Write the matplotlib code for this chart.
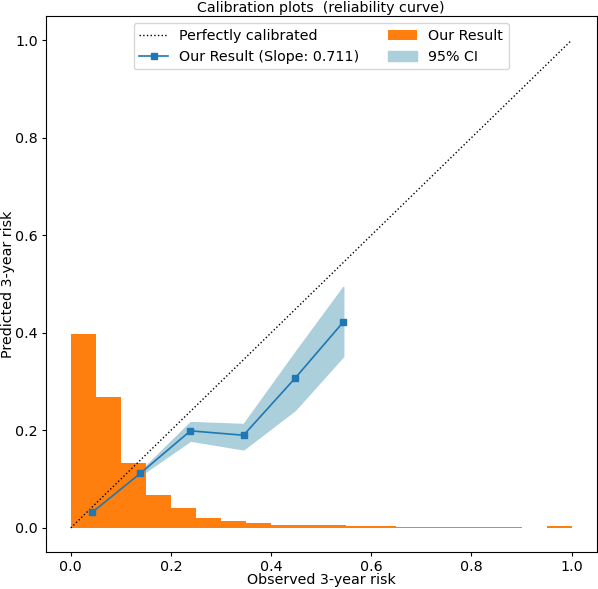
import numpy as np
import matplotlib
matplotlib.use('Agg')
import matplotlib.pyplot as plt

# calibratie punte (gemiddelde voorspelling vs. fraksie)
obs_risk = [0.043, 0.139, 0.239, 0.345, 0.448, 0.544]
pred_risk = [0.032, 0.112, 0.199, 0.190, 0.307, 0.422]
ci_lower = [0.031, 0.108, 0.179, 0.161, 0.242, 0.352]
ci_upper = [0.033, 0.116, 0.217, 0.213, 0.360, 0.494]

# histogram van voorspelde risiko (fraksie per bin)
bin_edges = np.linspace(0, 1, 21)
bin_frac = [0.397, 0.269, 0.134, 0.068, 0.041, 0.021, 0.015, 0.010,
            0.005, 0.005, 0.005, 0.003, 0.003, 0.001, 0.001, 0.001,
            0.001, 0.001, 0.0, 0.003]

slope = 0.711

plt.rcParams['font.size'] = 10.3
plt.rcParams['xtick.major.size'] = 3
plt.rcParams['ytick.major.size'] = 3
plt.rcParams['xtick.major.pad'] = 2.5
plt.rcParams['ytick.major.pad'] = 2.5

fig = plt.figure(figsize=(5.98, 5.89), dpi=100)
ax = fig.add_axes([0.0764, 0.0623, 0.9214, 0.911])

h_perf, = ax.plot([0, 1], [0, 1], 'k:', lw=1, label='Perfectly calibrated')
h_ci = ax.fill_between(obs_risk, ci_lower, ci_upper, color='#abcfdb',
                       label='95% CI')
_, _, h_hist = ax.hist(bin_edges[:-1], bins=bin_edges, weights=bin_frac,
                       histtype='stepfilled', color='#ff7f0e', lw=0,
                       label='Our Result')
h_line, = ax.plot(obs_risk, pred_risk, 's-', color='#1f77b4', ms=4.5, lw=1.2,
                  label='Our Result (Slope: %.3f)' % slope)

ax.set_xlim(-0.05, 1.05)
ax.set_ylim(-0.05, 1.05)
ax.set_xlabel('Observed 3-year risk', labelpad=-1)
ax.set_ylabel('Predicted 3-year risk', labelpad=0)
ax.set_title('Calibration plots  (reliability curve)', pad=2.5,
             fontsize='medium')
ax.legend([h_perf, h_line, h_hist[0], h_ci],
          ['Perfectly calibrated', 'Our Result (Slope: %.3f)' % slope,
           'Our Result', '95% CI'],
          loc='upper center', ncol=2)

fig.savefig('out.png')
